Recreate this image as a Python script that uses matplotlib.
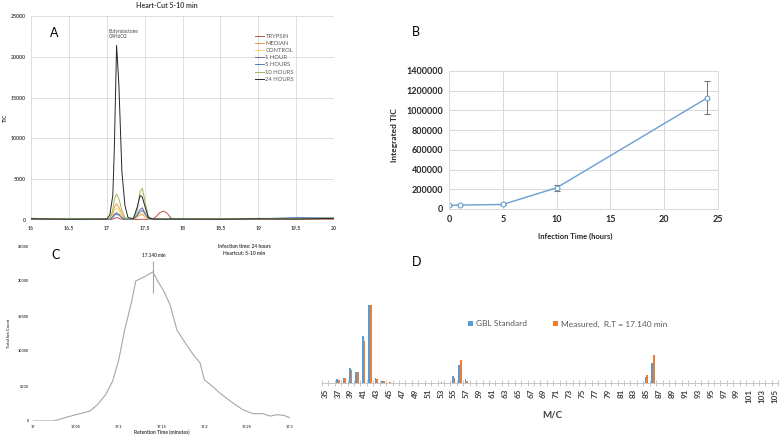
import matplotlib
matplotlib.use('Agg')
import matplotlib.pyplot as plt
import numpy as np

plt.rcParams['font.family'] = ['Lato', 'DejaVu Sans']

# ---------------- Panel A data ----------------
rt = [16.0, 16.5, 17.0, 17.04, 17.08, 17.1, 17.13, 17.16, 17.2, 17.24, 17.28, 17.35,
      17.4, 17.44, 17.47, 17.5, 17.55, 17.6, 17.65, 17.7, 17.75, 17.8, 17.85, 17.9,
      18.5, 19.0, 19.5, 20.0]
trypsin = [50, 50, 50, 60, 100, 200, 300, 200, 100, 60, 50, 50, 60, 80, 100, 80, 60, 100,
           400, 900, 1100, 800, 200, 80, 50, 60, 50, 60]
median = [100, 80, 100, 150, 800, 1600, 2000, 1600, 700, 200, 100, 100, 300, 600, 700, 400,
          150, 100, 80, 100, 100, 80, 100, 100, 100, 120, 100, 150]
control = [80, 60, 80, 120, 600, 1200, 1500, 1200, 500, 150, 80, 80, 300, 700, 800, 500,
           120, 80, 80, 80, 80, 80, 80, 80, 80, 100, 80, 120]
hour1 = [100, 80, 100, 120, 400, 700, 900, 700, 300, 100, 80, 100, 600, 1300, 1500, 900,
         200, 100, 80, 100, 80, 80, 100, 100, 100, 120, 100, 150]
hour5 = [200, 100, 100, 100, 300, 600, 700, 600, 250, 100, 100, 100, 500, 1000, 1200, 800,
         200, 120, 100, 100, 100, 100, 120, 100, 120, 150, 300, 250]
hour10 = [200, 150, 150, 200, 1200, 2500, 3200, 2600, 1200, 300, 150, 150, 1000, 3500, 3900,
          2500, 400, 150, 120, 100, 120, 100, 150, 150, 150, 200, 150, 250]
hour24 = [150, 100, 120, 600, 3000, 8700, 21400, 16600, 5900, 1800, 300, 150, 1500, 3000,
          2800, 1800, 300, 150, 100, 120, 100, 100, 150, 120, 100, 150, 120, 200]
series_names = ['TRYPSIN', 'MEDIAN', 'CONTROL', '1 HOUR', '5 HOURS', '10 HOURS', '24 HOURS']
series_vals = [trypsin, median, control, hour1, hour5, hour10, hour24]
series_colors = ['#c0504d', '#f79646', '#ffd966', '#8064a2', '#4f81bd', '#9bbb59', '#262626']

# ---------------- Panel B data ----------------
hours = [0, 1, 5, 10, 24]
integrated_tic = [37000, 40000, 46000, 215000, 1127000]
tic_err = [4000, 4000, 5000, 32000, 167000]

# ---------------- Panel C data ----------------
c_time = [17.000, 17.024, 17.030, 17.038, 17.050, 17.060, 17.066, 17.075, 17.085, 17.093,
          17.100, 17.107, 17.115, 17.120, 17.130, 17.140, 17.145, 17.153, 17.160, 17.168,
          17.178, 17.187, 17.195, 17.200, 17.210, 17.218, 17.233, 17.245, 17.257, 17.268,
          17.277, 17.285, 17.293, 17.300]
c_count = [0, 0, 200, 500, 900, 1200, 1400, 2300, 3800, 5700, 8700, 13000, 17000, 20000,
           20600, 21300, 20100, 18500, 16600, 13000, 11100, 9500, 8300, 5900, 4900, 4000,
           2600, 1600, 1050, 1050, 700, 900, 800, 450]

# ---------------- Panel D data ----------------
mz_labels = list(range(35, 106))
mz_peaks = [37, 38, 39, 40, 41, 42, 43, 44, 45, 53, 55, 56, 57, 85, 86]
gbl_std = [4.7, 6.8, 18.8, 14.5, 60, 100, 6, 3, 0.5, 0.5, 8.5, 22.5, 5.5, 8, 25]
measured = [4.3, 6, 16, 13.7, 54, 100, 5, 2, 0.8, 1.3, 6, 30, 3, 10.7, 36]

W, H = 781, 441
fig = plt.figure(figsize=(W / 100, H / 100), dpi=100)


def rect(x0, y0, x1, y1):
    return [x0 / W, 1 - y1 / H, (x1 - x0) / W, (y1 - y0) / H]


def fxy(x, y):
    return (x / W, 1 - y / H)


def bold_ticks(ax):
    for l in ax.get_xticklabels() + ax.get_yticklabels():
        l.set_fontweight('bold')


# ================= Panel A =================
axA = fig.add_axes(rect(31, 16, 334, 220))
for name, vals, col in zip(series_names, series_vals, series_colors):
    axA.plot(rt, vals, color=col, lw=0.7, label=name)
axA.set_xlim(16, 20)
axA.set_ylim(0, 25000)
xt = np.arange(16, 20.01, 0.5)
axA.set_xticks(xt)
axA.set_xticklabels([f'{v:g}' for v in xt])
axA.set_yticks(range(0, 25001, 5000))
axA.grid(color='#d9d9d9', lw=0.6)
axA.set_axisbelow(True)
for s in axA.spines.values():
    s.set_visible(False)
axA.tick_params(length=0, labelsize=3.7, colors='#404040', pad=4)
bold_ticks(axA)
axA.legend(loc='upper left', bbox_to_anchor=fxy(252, 31), bbox_transform=fig.transFigure,
           frameon=False, fontsize=4.2, handlelength=1.6, handletextpad=0.2,
           labelspacing=0.35, borderpad=0, labelcolor='#595959')
fig.text(*fxy(167, 6), 'Heart-Cut 5-10 min', ha='center', va='center', fontsize=5,
         fontweight='bold', color='#404040')
fig.text(*fxy(5, 118), 'TIC', ha='center', va='center', rotation=90, fontsize=4,
         fontweight='bold', color='#404040')
fig.text(*fxy(54, 33), 'A', ha='center', va='center', fontsize=9)
fig.text(*fxy(109, 34), 'Butyrolactone\nC4H6O2', ha='left', va='center', fontsize=3.4,
         color='#404040', linespacing=1.2)

# ================= Panel B =================
axB = fig.add_axes(rect(449, 71, 718, 209))
axB.errorbar(hours, integrated_tic, yerr=tic_err, color='#6a9fd4', lw=1.0, marker='o',
             ms=3.5, mfc='white', mec='#6a9fd4', mew=0.8, ecolor='#7f6f6f',
             elinewidth=0.7, capsize=2, capthick=0.7)
axB.set_xlim(0, 25)
axB.set_ylim(0, 1400000)
axB.set_xticks(range(0, 26, 5))
axB.set_yticks(range(0, 1400001, 200000))
axB.set_yticklabels([str(v) for v in range(0, 1400001, 200000)])
axB.grid(color='#d9d9d9', lw=0.7)
axB.set_axisbelow(True)
for s in axB.spines.values():
    s.set_color('#d9d9d9')
    s.set_linewidth(0.7)
axB.tick_params(length=0, labelsize=6.5, colors='#262626', pad=4)
bold_ticks(axB)
fig.text(*fxy(395, 135), 'Integrated TIC', ha='center', va='center', rotation=90,
         fontsize=6, fontweight='bold', color='#262626')
fig.text(*fxy(575, 236), 'Infection Time (hours)', ha='center', va='center', fontsize=5.5,
         fontweight='bold', color='#262626')
fig.text(*fxy(416, 32), 'B', ha='center', va='center', fontsize=9)

# ================= Panel C =================
axC = fig.add_axes(rect(33, 246, 290, 421))
axC.plot(c_time, c_count, color='#a6a6a6', lw=0.8)
axC.set_xlim(17, 17.3)
axC.set_ylim(0, 25000)
ct = [17, 17.05, 17.1, 17.15, 17.2, 17.25, 17.3]
axC.set_xticks(ct)
axC.set_xticklabels([f'{v:g}' for v in ct])
axC.set_yticks(range(0, 25001, 5000))
for s in axC.spines.values():
    s.set_visible(False)
axC.tick_params(length=0, labelsize=2.8, colors='#404040', pad=3)
bold_ticks(axC)
axC.vlines(17.14, 18300, 22900, color='#a6a6a6', lw=0.8)
axC.text(17.1416, 23700, '17.140 min', ha='center', va='center', fontsize=3.4,
         fontweight='bold', color='#404040')
fig.text(*fxy(244, 250), 'Infection time: 24 hours\nHeartcut: 5-10 min', ha='center',
         va='center', fontsize=3.6, fontweight='bold', color='#404040', linespacing=1.5)
fig.text(*fxy(9, 333), 'Total Ion Count', ha='center', va='center', rotation=90,
         fontsize=3.1, fontweight='bold', color='#404040')
fig.text(*fxy(162, 432), 'Retention Time (minutes)', ha='center', va='center',
         fontsize=3.6, fontweight='bold', color='#404040')
fig.text(*fxy(56, 255), 'C', ha='center', va='center', fontsize=9)

# ================= Panel D =================
pos = np.arange(len(mz_labels))
gbl_full = np.zeros(len(mz_labels))
meas_full = np.zeros(len(mz_labels))
for m, g, me in zip(mz_peaks, gbl_std, measured):
    gbl_full[mz_labels.index(m)] = g
    meas_full[mz_labels.index(m)] = me
axD = fig.add_axes(rect(321.8, 290, 778.3, 383))
w = 0.26
axD.bar(pos - w / 2, gbl_full, width=w, color='#5b9bd5', label='GBL Standard')
axD.bar(pos + w / 2, meas_full, width=w, color='#ed7d31', label='Measured,  R.T = 17.140 min')
axD.set_xlim(-0.5, len(mz_labels) - 0.5)
axD.set_ylim(0, 119)
axD.set_xticks(pos[::2])
axD.set_xticklabels([str(m) for m in mz_labels[::2]], rotation=90)
axD.set_xticks(np.arange(-0.5, len(mz_labels), 1), minor=True)
axD.tick_params(which='major', length=0, labelsize=5.8, colors='#404040', pad=4)
axD.tick_params(which='minor', length=4, direction='inout', color='#bfbfbf', width=0.6)
axD.set_yticks([])
for k in ['left', 'top', 'right']:
    axD.spines[k].set_visible(False)
axD.spines['bottom'].set_color('#bfbfbf')
axD.spines['bottom'].set_linewidth(0.6)
bold_ticks(axD)
axD.legend(loc='center left', bbox_to_anchor=fxy(464, 324), bbox_transform=fig.transFigure,
           ncol=2, frameon=False, fontsize=6, handlelength=0.6, handleheight=0.6,
           handletextpad=0.3, columnspacing=3.2, borderpad=0, labelcolor='#595959')
fig.text(*fxy(552, 415), 'M/C', ha='center', va='center', fontsize=7, fontweight='bold',
         color='#404040')
fig.text(*fxy(417, 262), 'D', ha='center', va='center', fontsize=9)

fig.savefig('out.png', dpi=100)
